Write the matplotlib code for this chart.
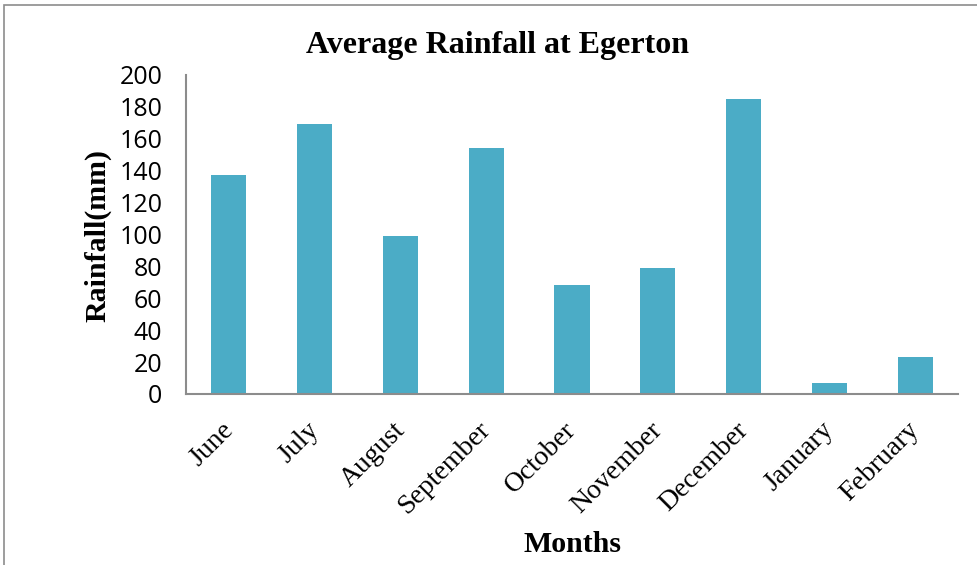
import matplotlib.pyplot as plt
import matplotlib.transforms as mtransforms
from matplotlib.patches import Rectangle

months = ["June", "July", "August", "September", "October",
          "November", "December", "January", "February"]
rainfall = [137, 169, 99, 154, 68, 79, 185, 7, 23]

fig = plt.figure(figsize=(9.77, 5.65), dpi=100)
# outer chart border (runs off the right and bottom edges)
fig.patches.append(Rectangle((4 / 977, -0.1), 1.2, 1 - 5 / 565 + 0.1,
                             transform=fig.transFigure, fill=False,
                             edgecolor="#8c8c8c", linewidth=1.2))

ax = fig.add_axes([0.1904, 0.3027, 0.7902, 0.5653])
ax.bar(range(len(months)), rainfall, width=0.41, color="#4BACC6")
ax.set_xlim(-0.5, len(months) - 0.5)
ax.set_ylim(0, 200)
ax.set_yticks(range(0, 201, 20))
ax.tick_params(axis="y", length=0, pad=17, labelsize=18)
ax.tick_params(axis="x", length=0, pad=12)
for lbl in ax.get_yticklabels():
    lbl.set_family("Open Sans")

ax.set_xticks(range(len(months)))
ax.set_xticklabels(months, rotation=45, ha="right", va="top",
                   rotation_mode="anchor", family="Liberation Serif",
                   fontsize=20)
# nudge the slanted month names a little left and down
shift = mtransforms.ScaledTranslation(-6 / 72, -5 / 72, fig.dpi_scale_trans)
for lbl in ax.get_xticklabels():
    lbl.set_transform(lbl.get_transform() + shift)

for side in ["top", "right"]:
    ax.spines[side].set_visible(False)
for side in ["left", "bottom"]:
    ax.spines[side].set_color("#8c8c8c")
    ax.spines[side].set_linewidth(1.5)

fig.text(498 / 977, 1 - 46 / 565, "Average Rainfall at Egerton",
         ha="center", va="center", family="Liberation Serif",
         fontweight="bold", fontsize=23)
fig.text(572 / 977, 1 - 545 / 565, "Months", ha="center", va="center",
         family="Liberation Serif", fontweight="bold", fontsize=21.5)
fig.text(98 / 977, 1 - 235 / 565, "Rainfall(mm)", ha="center", va="center",
         rotation=90, family="Liberation Serif", fontweight="bold",
         fontsize=21.5)

fig.savefig("out.png", dpi=100)
